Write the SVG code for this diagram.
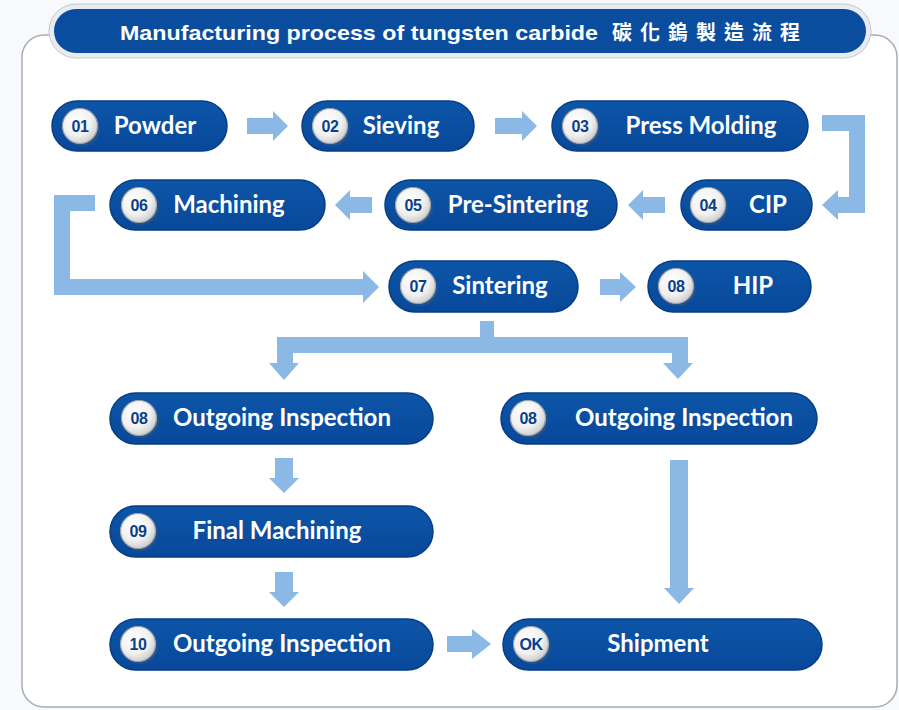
<svg xmlns="http://www.w3.org/2000/svg" width="899" height="710" viewBox="0 0 899 710">
<defs>
<radialGradient id="badge" cx="40%" cy="35%" r="70%">
<stop offset="0" stop-color="#ffffff"/>
<stop offset="0.6" stop-color="#f1f1f1"/>
<stop offset="1" stop-color="#c9c9c9"/>
</radialGradient>
<linearGradient id="pill" x1="0" y1="0" x2="0" y2="1">
<stop offset="0" stop-color="#0d55a8"/>
<stop offset="1" stop-color="#08489a"/>
</linearGradient>
</defs>
<style>
.pill{fill:url(#pill);stroke:#063d83;stroke-width:1.5}
.badge{fill:url(#badge);stroke:#9aa3ad;stroke-width:1.2}
.shadow{fill:#4a5a70;opacity:0.45}
.num{font-family:"Liberation Sans",Arial,sans-serif;font-weight:bold;font-size:16px;fill:#0b3f8a;text-anchor:middle;letter-spacing:-0.5px}
.lbl{font-family:Lato,"Open Sans",sans-serif;font-weight:bold;font-size:24px;fill:#ffffff;text-anchor:middle}
.arr{fill:#8cb8e6}
.title{font-family:"Liberation Sans","Noto Sans CJK TC",sans-serif;font-weight:bold;font-size:21px;fill:#ffffff}
.cjk{font-family:"Noto Sans CJK TC",sans-serif;font-weight:bold;font-size:20px;fill:#ffffff;letter-spacing:8px}
</style>
<rect width="899" height="710" fill="#f7f9fc"/>
<rect x="22" y="35" width="875" height="672" rx="22" fill="#ffffff" stroke="#a9adb2" stroke-width="1.5"/>
<g id="title">
<rect x="49" y="4" width="822" height="54" rx="27" fill="#e8ebf0" stroke="#c3c9d2" stroke-width="1"/>
<rect x="54" y="9" width="812" height="44" rx="22" fill="#0a4d9f"/>
<text class="title" x="120" y="40" textLength="478" lengthAdjust="spacingAndGlyphs">Manufacturing process of tungsten carbide</text>
<text class="cjk" x="612" y="40">碳化鎢製造流程</text>
</g>
<g id="connectors">
<path class="arr" d="M247,118 H273 V111 L288,126 L273,141 V134 H247 Z"/>
<path class="arr" d="M495,118 H522 V111 L537,126 L522,141 V134 H495 Z"/>
<path class="arr" d="M822,115 H865 V213 H838 V220 L822,205 L838,190 V197 H849 V131 H822 Z"/>
<path class="arr" d="M665,197 H643 V190 L628,205 L643,220 V213 H665 Z"/>
<path class="arr" d="M372,197 H350 V190 L335,205 L350,220 V213 H372 Z"/>
<path class="arr" d="M95,195 H54 V295 H363 V303 L379,287 L363,271 V279 H70 V211 H95 Z"/>
<path class="arr" d="M600,279 H620 V272 L636,287 L620,302 V295 H600 Z"/>
<path class="arr" d="M480,321 H494 V337 H688 V363 H693 L678,379 L663,363 H672 V353 H293 V363 H299 L284,380 L269,363 H277 V337 H480 Z"/>
<path class="arr" d="M275,458 H293 V478 H299 L284,493 L269,478 H275 Z"/>
<path class="arr" d="M275,572 H293 V592 H299 L284,607 L269,592 H275 Z"/>
<path class="arr" d="M670,460 H688 V588 H694 L679,604 L664,588 H670 Z"/>
<path class="arr" d="M447,636 H472 V629 L491,644 L472,659 V652 H447 Z"/>
</g>
<g id="n01"><rect class="pill" x="52" y="101" width="175" height="50" rx="25"/><circle class="shadow" cx="82" cy="128" r="18"/><circle class="badge" cx="80" cy="126" r="17.5"/><text class="num" x="80" y="132">01</text><text class="lbl" x="155" y="134">Powder</text></g>
<g id="n02"><rect class="pill" x="302" y="101" width="172" height="50" rx="25"/><circle class="shadow" cx="332" cy="128" r="18"/><circle class="badge" cx="330" cy="126" r="17.5"/><text class="num" x="330" y="132">02</text><text class="lbl" x="401" y="134">Sieving</text></g>
<g id="n03"><rect class="pill" x="552" y="101" width="256" height="50" rx="25"/><circle class="shadow" cx="582" cy="128" r="18"/><circle class="badge" cx="580" cy="126" r="17.5"/><text class="num" x="580" y="132">03</text><text class="lbl" x="701" y="134">Press Molding</text></g>
<g id="n04"><rect class="pill" x="681" y="180" width="131" height="50" rx="25"/><circle class="shadow" cx="710" cy="207" r="18"/><circle class="badge" cx="708" cy="205" r="17.5"/><text class="num" x="708" y="211">04</text><text class="lbl" x="768" y="213">CIP</text></g>
<g id="n05"><rect class="pill" x="385" y="180" width="232" height="50" rx="25"/><circle class="shadow" cx="415" cy="207" r="18"/><circle class="badge" cx="413" cy="205" r="17.5"/><text class="num" x="413" y="211">05</text><text class="lbl" x="518" y="213">Pre-Sintering</text></g>
<g id="n06"><rect class="pill" x="110" y="180" width="215" height="50" rx="25"/><circle class="shadow" cx="141" cy="207" r="18"/><circle class="badge" cx="139" cy="205" r="17.5"/><text class="num" x="139" y="211">06</text><text class="lbl" x="229" y="213">Machining</text></g>
<g id="n07"><rect class="pill" x="389" y="261" width="189" height="51" rx="25.5"/><circle class="shadow" cx="420" cy="288" r="18"/><circle class="badge" cx="418" cy="286" r="17.5"/><text class="num" x="418" y="292">07</text><text class="lbl" x="500" y="294">Sintering</text></g>
<g id="n08hip"><rect class="pill" x="648" y="261" width="163" height="51" rx="25.5"/><circle class="shadow" cx="678" cy="288" r="18"/><circle class="badge" cx="676" cy="286" r="17.5"/><text class="num" x="676" y="292">08</text><text class="lbl" x="753" y="294">HIP</text></g>
<g id="n08a"><rect class="pill" x="110" y="393" width="323" height="51" rx="25.5"/><circle class="shadow" cx="141" cy="420" r="18"/><circle class="badge" cx="139" cy="418" r="17.5"/><text class="num" x="139" y="424">08</text><text class="lbl" x="282" y="426">Outgoing Inspection</text></g>
<g id="n08b"><rect class="pill" x="501" y="393" width="316" height="51" rx="25.5"/><circle class="shadow" cx="530" cy="420" r="18"/><circle class="badge" cx="528" cy="418" r="17.5"/><text class="num" x="528" y="424">08</text><text class="lbl" x="684" y="426">Outgoing Inspection</text></g>
<g id="n09"><rect class="pill" x="110" y="506" width="323" height="51" rx="25.5"/><circle class="shadow" cx="140" cy="533" r="18"/><circle class="badge" cx="138" cy="531" r="17.5"/><text class="num" x="138" y="537">09</text><text class="lbl" x="277" y="539">Final Machining</text></g>
<g id="n10"><rect class="pill" x="110" y="619" width="323" height="51" rx="25.5"/><circle class="shadow" cx="140" cy="646" r="18"/><circle class="badge" cx="138" cy="644" r="17.5"/><text class="num" x="138" y="650">10</text><text class="lbl" x="282" y="652">Outgoing Inspection</text></g>
<g id="nok"><rect class="pill" x="503" y="619" width="319" height="51" rx="25.5"/><circle class="shadow" cx="533" cy="646" r="18"/><circle class="badge" cx="531" cy="644" r="17.5"/><text class="num" x="531" y="650">OK</text><text class="lbl" x="658" y="652">Shipment</text></g>
</svg>
